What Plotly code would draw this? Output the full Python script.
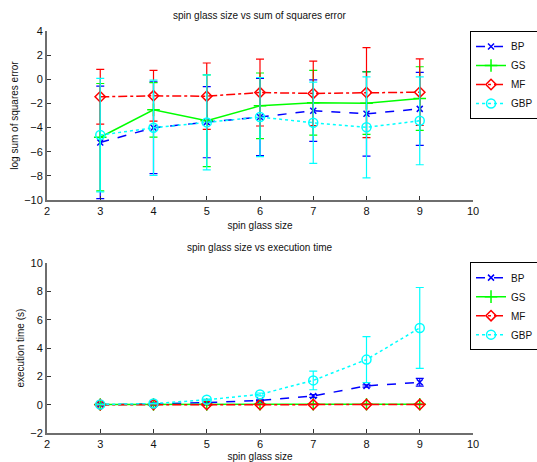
import plotly.graph_objects as go

sizes = [3, 4, 5, 6, 7, 8, 9]

# top: log sum of squares error (mean, error)
err_bp = [-5.23, -4.02, -3.55, -3.13, -2.60, -2.86, -2.45]
err_bp_e = [4.66, 3.8, 2.95, 3.2, 2.55, 3.5, 3.02]
err_gs = [-4.80, -2.53, -3.44, -2.20, -1.95, -1.98, -1.60]
err_gs_e = [4.45, 2.26, 3.8, 2.72, 2.68, 2.59, 2.64]
err_mf = [-1.45, -1.37, -1.40, -1.10, -1.17, -1.10, -1.07]
err_mf_e = [2.27, 2.1, 2.75, 2.77, 2.67, 3.73, 2.76]
err_gbp = [-4.62, -4.02, -3.57, -3.13, -3.60, -3.98, -3.44]
err_gbp_e = [4.7, 3.95, 3.93, 3.28, 3.36, 4.18, 3.64]

# bottom: execution time (s)
t_bp = [0.01, 0.05, 0.15, 0.30, 0.62, 1.33, 1.59]
t_bp_e = [0.005, 0.01, 0.02, 0.04, 0.1, 0.08, 0.28]
t_gs = [0.02, 0.02, 0.02, 0.03, 0.03, 0.03, 0.03]
t_gs_e = [0.01, 0.01, 0.01, 0.01, 0.01, 0.01, 0.01]
t_mf = [0.0, 0.01, 0.01, 0.01, 0.01, 0.01, 0.01]
t_mf_e = [0.01, 0.01, 0.01, 0.01, 0.01, 0.01, 0.01]
t_gbp = [0.02, 0.08, 0.35, 0.73, 1.72, 3.19, 5.43]
t_gbp_e = [0.01, 0.02, 0.05, 0.1, 0.66, 1.63, 2.86]

names = ["BP", "GS", "MF", "GBP"]
colors = ["#0000ff", "#00ff00", "#ff0000", "#00ffff"]
dashes = ["dash", "solid", "dashdot", "dot"]
symbols = ["x-thin-open", "cross-thin-open", "diamond-open", "circle-open"]
msizes = [6, 9, 8, 9]

fig = go.Figure()

top = [(err_bp, err_bp_e), (err_gs, err_gs_e), (err_mf, err_mf_e), (err_gbp, err_gbp_e)]
bot = [(t_bp, t_bp_e), (t_gs, t_gs_e), (t_mf, t_mf_e), (t_gbp, t_gbp_e)]

for i, (ys, es) in enumerate(top):
    fig.add_trace(go.Scatter(
        x=sizes, y=ys, name=names[i], mode="lines+markers",
        line=dict(color=colors[i], dash=dashes[i], width=1.5),
        marker=dict(symbol=symbols[i], size=msizes[i], color=colors[i],
                    line=dict(color=colors[i], width=1.5)),
        error_y=dict(type="data", array=es, visible=True, color=colors[i],
                     thickness=1.2, width=4),
        xaxis="x", yaxis="y", legend="legend"))

for i, (ys, es) in enumerate(bot):
    fig.add_trace(go.Scatter(
        x=sizes, y=ys, name=names[i], mode="lines+markers",
        line=dict(color=colors[i], dash=dashes[i], width=1.5),
        marker=dict(symbol=symbols[i], size=msizes[i], color=colors[i],
                    line=dict(color=colors[i], width=1.5)),
        error_y=dict(type="data", array=es, visible=True, color=colors[i],
                     thickness=1.2, width=4),
        xaxis="x2", yaxis="y2", legend="legend2"))

axis_common = dict(showline=True, linecolor="#6e6e6e", linewidth=2, mirror=False,
                   ticks="inside", ticklen=4, tickcolor="#333", tickwidth=1,
                   showgrid=False, zeroline=False,
                   tickfont=dict(family="Liberation Sans, Arial", size=11, color="#111"))

title_font = dict(family="Liberation Sans, Arial", size=10, color="#111")
legend_font = dict(family="Liberation Sans, Arial", size=10, color="#111")

fig.update_layout(
    width=537, height=462,
    margin=dict(l=47, r=64, t=31, b=29, autoexpand=False),
    paper_bgcolor="white", plot_bgcolor="white",
    font=dict(family="Liberation Sans, Arial", size=10, color="#111"),
    xaxis=dict(axis_common, domain=[0, 1], range=[2, 10], dtick=1, anchor="y",
               title=dict(text="spin glass size", font=title_font, standoff=6)),
    yaxis=dict(axis_common, domain=[0.5796, 1.0], range=[-10, 4], dtick=2, anchor="x",
               title=dict(text="log sum of squares error", font=title_font, standoff=4)),
    xaxis2=dict(axis_common, domain=[0, 1], range=[2, 10], dtick=1, anchor="y2",
                title=dict(text="spin glass size", font=title_font, standoff=6)),
    yaxis2=dict(axis_common, domain=[0.0, 0.4221], range=[-2, 10], dtick=2, anchor="x2",
                title=dict(text="execution time (s)", font=title_font, standoff=4)),
    legend=dict(x=0.993, xanchor="left", y=1.0, yanchor="top",
                bordercolor="black", borderwidth=1, bgcolor="white",
                font=legend_font, itemwidth=30, tracegroupgap=0),
    legend2=dict(x=0.993, xanchor="left", y=0.425, yanchor="top",
                 bordercolor="black", borderwidth=1, bgcolor="white",
                 font=legend_font, itemwidth=30, tracegroupgap=0),
    annotations=[
        dict(text="spin glass size vs sum of squares error", x=0.5, y=1.0,
             xref="paper", yref="paper", yanchor="bottom", yshift=8,
             showarrow=False, font=title_font),
        dict(text="spin glass size vs execution time", x=0.5, y=0.4221,
             xref="paper", yref="paper", yanchor="bottom", yshift=8,
             showarrow=False, font=title_font),
    ],
)

fig.write_html("out.html")
